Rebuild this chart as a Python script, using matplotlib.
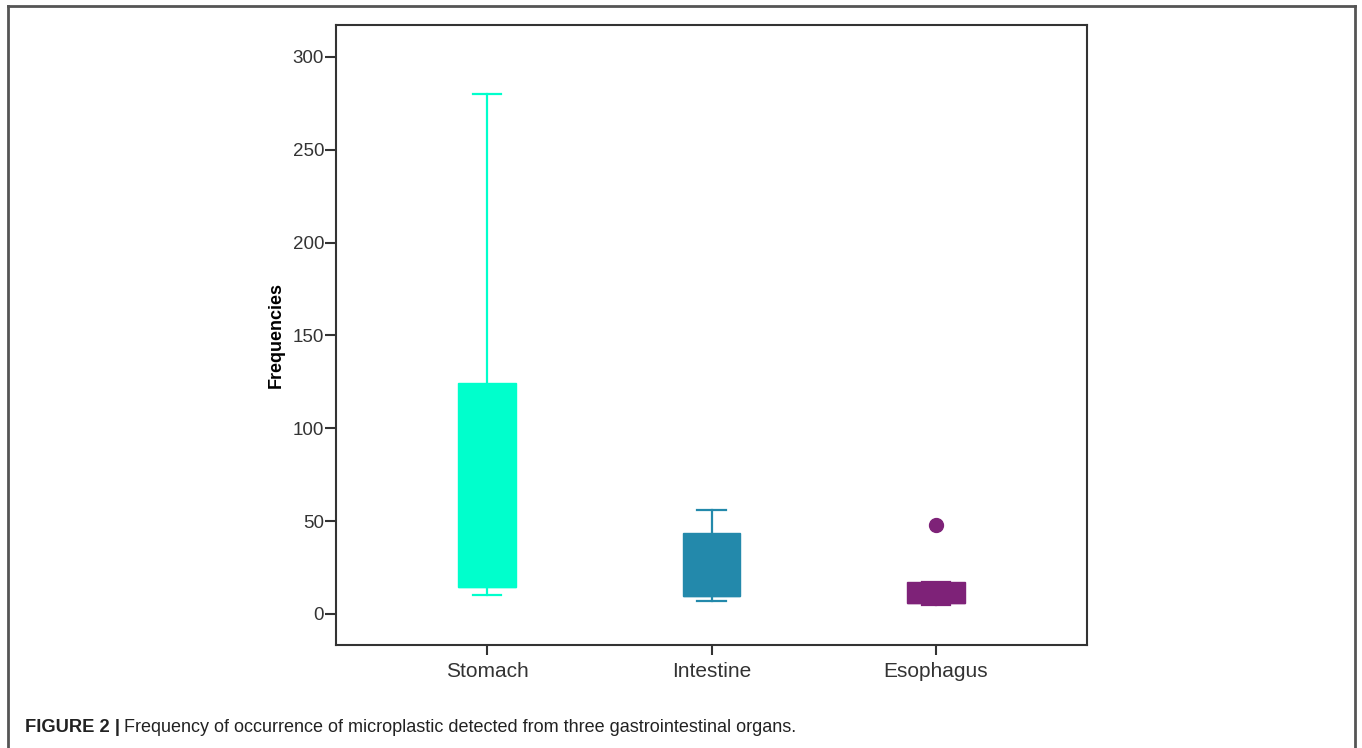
import matplotlib.pyplot as plt
from matplotlib.lines import Line2D

plt.rcParams['font.family'] = ['Liberation Sans', 'DejaVu Sans']

# Box summaries per organ
organs = ["Stomach", "Intestine", "Esophagus"]
whisk_lo = [10, 7, 5]
q1 = [14.5, 9.7, 6]
medians = [14.5, 9.7, 6]
q3 = [124.5, 43.5, 17]
whisk_hi = [280, 56, 17]
outliers = [[], [], [48]]
colors = ["#00FFCC", "#2389AB", "#7E2278"]

yticks = [0, 50, 100, 150, 200, 250, 300]

fig = plt.figure(figsize=(13.62, 7.48), dpi=100)
ax = fig.add_axes([336 / 1362, 1 - 645 / 748, 751 / 1362, 620 / 748])

stats = []
for i, name in enumerate(organs):
    stats.append(dict(label=name, whislo=whisk_lo[i], q1=q1[i], med=medians[i],
                      q3=q3[i], whishi=whisk_hi[i], fliers=outliers[i]))

for i, s in enumerate(stats):
    c = colors[i]
    ax.bxp([s], positions=[i + 1], widths=0.258, patch_artist=True,
           boxprops=dict(facecolor=c, edgecolor=c, linewidth=1),
           medianprops=dict(color=c, linewidth=1),
           whiskerprops=dict(color=c, linewidth=1.6),
           capprops=dict(color=c, linewidth=1.6),
           capwidths=0.125,
           flierprops=dict(marker='o', markerfacecolor=c, markeredgecolor=c,
                           markersize=10))

ax.set_xlim(0.327, 3.673)
ax.set_ylim(-16.7, 317.2)
ax.set_yticks(yticks)
ax.set_yticklabels([str(t) for t in yticks])
ax.set_xticks([1, 2, 3])
ax.set_xticklabels(organs)
ax.tick_params(axis='y', direction='out', length=8, width=1.5, labelsize=13.5,
               colors='#333333', pad=0.5)
ax.tick_params(axis='x', direction='out', length=7, width=1.5, labelsize=15,
               colors='#333333', pad=5)
for sp in ax.spines.values():
    sp.set_linewidth(1.5)
    sp.set_color('#333333')
ax.set_ylabel("Frequencies", fontsize=13, fontweight='bold', labelpad=6)

# page frame around the figure
frame = dict(color='#555555', linewidth=2, transform=fig.transFigure)
fig.add_artist(Line2D([8 / 1362, 8 / 1362], [0, 1 - 6 / 748], **frame))
fig.add_artist(Line2D([8 / 1362, 1355 / 1362], [1 - 6 / 748, 1 - 6 / 748], **frame))
fig.add_artist(Line2D([1355 / 1362, 1355 / 1362], [0, 1 - 6 / 748], **frame))

fig.text(25 / 1362, 1 - 727 / 748, "FIGURE 2 |", fontsize=13.2, fontweight='bold',
         va='center', ha='left', color='#222222')
fig.text(124 / 1362, 1 - 727 / 748,
         "Frequency of occurrence of microplastic detected from three gastrointestinal organs.",
         fontsize=13, va='center', ha='left', color='#222222')

fig.savefig("out.png", dpi=100)
